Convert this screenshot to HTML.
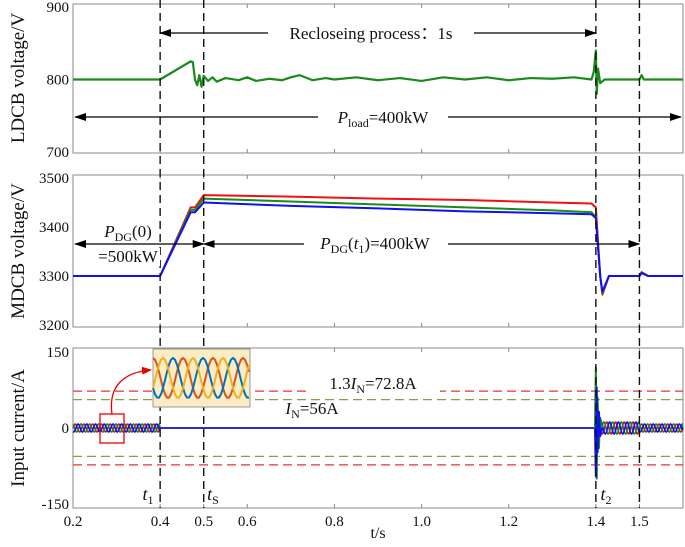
<!DOCTYPE html>
<html><head><meta charset="utf-8"><style>
body{margin:0;background:#fff}
svg text{font-family:"Liberation Serif",serif;fill:#111}
</style></head><body>
<svg id="c" width="685" height="542" xmlns="http://www.w3.org/2000/svg"></svg>
<script>
const ldcbT=[0.2,0.4,0.47,0.475,0.48,0.485,0.49,0.495,0.5,0.51,0.52,0.53,0.55,0.58,0.6,0.62,0.65,0.68,0.7,0.72,0.75,0.78,0.8,0.85,0.9,0.95,1.0,1.05,1.1,1.15,1.2,1.25,1.3,1.35,1.39,1.395,1.4,1.402,1.405,1.41,1.42,1.5,1.505,1.51,1.6];
const ldcbV=[800,800,825,824,800,792,806,790,805,798,803,797,802,799,803,798,801,799,803,806,799,802,800,803,799,802,798,803,800,803,799,802,801,803,800,810,840,780,815,795,800,800,806,800,800];
const mdT=[0.2,0.4,0.47,0.48,0.5,0.7,0.9,1.1,1.3,1.39,1.4,1.41,1.415,1.43,1.5,1.505,1.52,1.6];
const redV=[3300,3300,3440,3440,3465,3462,3458,3455,3450,3448,3440,3300,3262,3300,3300,3308,3300,3300];
const greenV=[3300,3300,3435,3435,3458,3452,3446,3440,3434,3430,3420,3300,3265,3300,3300,3307,3300,3300];
const blueV=[3300,3300,3430,3430,3450,3443,3438,3432,3428,3426,3418,3300,3268,3300,3300,3306,3300,3300];
const curSegT=[0.2,0.4,1.4,1.5,1.6];
const curAmp=[8,0,12,8];
const spikeT=[1.398,1.4,1.402,1.404,1.407,1.41,1.415];
const spikeV=[0,120,-100,60,-40,20,0];
const ratedI=[72.8,56];
const xTicks=[0.2,0.4,0.5,0.6,0.8,1.0,1.2,1.4,1.5];
const xTickLbl=["0.2","0.4","0.5","0.6","0.8","1.0","1.2","1.4","1.5"];
const events=[0.4,0.5,1.4,1.5];

const NS="http://www.w3.org/2000/svg",svg=document.getElementById('c');
function mk(tag,at,parent){const e=document.createElementNS(NS,tag);for(const k in at)e.setAttribute(k,at[k]);(parent||svg).appendChild(e);return e;}
const X0=73,X1=683;
const x=t=>X0+(t-0.2)*(610/1.4);
const yA=v=>7+(900-v)*(145/200);
const yB=v=>178+(3500-v)*(147/300);
const yC=v=>428-v*(76/150);
const defs=mk('defs',{});
const m=mk('marker',{id:'ah',markerWidth:12,markerHeight:8,refX:11,refY:4,orient:'auto-start-reverse',markerUnits:'userSpaceOnUse'},defs);
mk('path',{d:'M0,0 L12,4 L0,8z',fill:'#000'},m);
const m2=mk('marker',{id:'rh',markerWidth:10,markerHeight:8,refX:9,refY:4,orient:'auto',markerUnits:'userSpaceOnUse'},defs);
mk('path',{d:'M0,0 L10,4 L0,8z',fill:'#e00'},m2);
const frames=[[4,153,'ldcb-panel'],[175,327,'mdcb-panel'],[348,508,'current-panel']];
frames.forEach(f=>{const r=mk('rect',{x:X0,y:f[0],width:X1-X0,height:f[1]-f[0],fill:'none',stroke:'#888','stroke-width':1});

xTicks.forEach(t=>{mk('line',{x1:x(t),x2:x(t),y1:f[1],y2:f[1]-4,stroke:'#888'});mk('line',{x1:x(t),x2:x(t),y1:f[0],y2:f[0]+4,stroke:'#888'});});});
function ylab(y,s){const e=mk('text',{x:69,y:y+5,'text-anchor':'end','font-size':15});e.textContent=s;}
[[900,yA],[800,yA],[700,yA]].forEach(a=>ylab(a[1](a[0]),a[0]));
[3500,3400,3300,3200].forEach(v=>ylab(yB(v),v));
[[150,'150'],[0,'0'],[-150,'-150']].forEach(a=>ylab(yC(a[0]),a[1]));
xTicks.forEach((t,i)=>{const e=mk('text',{x:x(t),y:526,'text-anchor':'middle','font-size':15});e.textContent=xTickLbl[i];});
let xt=mk('text',{x:378,y:538,'text-anchor':'middle','font-size':16});xt.textContent='t/s';
[['LDCB voltage/V',78],['MDCB voltage/V',251],['Input current/A',428]].forEach(a=>{const e=mk('text',{x:0,y:0,'text-anchor':'middle','font-size':19,transform:`translate(24,${a[1]}) rotate(-90)`});e.textContent=a[0];});
[['#e83030',ratedI[0]],['#8aa040',ratedI[1]]].forEach(a=>{[1,-1].forEach(s=>{const l=mk('line',{x1:X0,x2:X1,y1:yC(s*a[1]),y2:yC(s*a[1]),stroke:a[0],'stroke-width':1.3,'stroke-dasharray':'9,5'});});});
function poly(ts,vs,fy,col,w,name){const p=mk('polyline',{points:ts.map((t,i)=>x(t)+','+fy(vs[i])).join(' '),fill:'none',stroke:col,'stroke-width':w,'stroke-linejoin':'round'});return p;}
poly(ldcbT,ldcbV,yA,'#1a8a1a',2.2,'ldcb-voltage-line');
poly(mdT,redV,yB,'#f01010',2,'mdcb-red-line');
poly(mdT,greenV,yB,'#1a8a1a',2,'mdcb-green-line');
poly(mdT,blueV,yB,'#1010f0',2,'mdcb-blue-line');
const cols=['#e01010','#1a8a1a','#1010f0'];
cols.forEach((c,k)=>{const ts=[],vs=[];
for(let s=0;s<curAmp.length;s++){for(let t=curSegT[s];t<curSegT[s+1];t+=0.002){ts.push(t);vs.push(curAmp[s]*Math.sin(2*Math.PI*50*t+k*2.094));}}
ts.push(1.6);vs.push(0);
poly(ts,vs,yC,c,1.6,'current-phase-'+k);});
poly(spikeT,spikeV,yC,'#1a8a1a',2,'current-spike-green');
poly(spikeT,spikeV.map(v=>-v*0.8),yC,'#1010f0',2,'current-spike-blue');
events.forEach(t=>{const l=mk('line',{x1:x(t),x2:x(t),y1:0,y2:508,stroke:'#111','stroke-width':1.4,'stroke-dasharray':'8,5'});});
function arrow(x1,y,x2,both,name){const l=mk('line',{x1,y1:y,x2,y2:y,stroke:'#000','stroke-width':1.2,'marker-end':'url(#ah)'});if(both)l.setAttribute('marker-start','url(#ah)');}
function txt(xx,y,html,size,name,anchor){const e=mk('text',{x:xx,y,'font-size':size||17,'text-anchor':anchor||'middle'});e.innerHTML=html;return e;}
arrow(x(0.4),33,x(1.4),true,'reclose-arrow');
mk('rect',{x:268,y:22,width:206,height:22,fill:'#fff'});
txt(371,39,'Recloseing process：1s',17,'reclose-label');
arrow(X0+2,117,X1-2,true,'pload-arrow');
mk('rect',{x:318,y:106,width:130,height:22,fill:'#fff'});
txt(383,123,'<tspan font-style="italic">P</tspan><tspan font-size="12" dy="4">load</tspan><tspan dy="-4">=400kW</tspan>',17,'pload-label');
arrow(X0+2,244,x(0.5),true,'pdg0-arrow');
arrow(x(0.5),244,x(1.5),true,'pdgt1-arrow');
mk('rect',{x:98,y:222,width:56,height:18,fill:'#fff'});
txt(128,237,'<tspan font-style="italic">P</tspan><tspan font-size="12" dy="4">DG</tspan><tspan dy="-4">(0)</tspan>',17,'pdg0-label');
mk('rect',{x:96,y:248,width:64,height:18,fill:'#fff'});
txt(128,262,'=500kW',17,'pdg0-value');
mk('rect',{x:304,y:232,width:144,height:22,fill:'#fff'});
txt(375,249,'<tspan font-style="italic">P</tspan><tspan font-size="12" dy="4">DG</tspan><tspan dy="-4">(</tspan><tspan font-style="italic">t</tspan><tspan font-size="12" dy="4">1</tspan><tspan dy="-4">)=400kW</tspan>',17,'pdgt1-label');
mk('rect',{x:306,y:374,width:134,height:18,fill:'#fff'});
txt(373,389,'1.3<tspan font-style="italic">I</tspan><tspan font-size="12" dy="4">N</tspan><tspan dy="-4">=72.8A</tspan>',17,'rated-13-label');
txt(312,414,'<tspan font-style="italic">I</tspan><tspan font-size="12" dy="4">N</tspan><tspan dy="-4">=56A</tspan>',17,'rated-label');
txt(148,500,'<tspan font-style="italic">t</tspan><tspan font-size="12" dy="4">1</tspan>',18,'t1-label');
txt(213,500,'<tspan font-style="italic">t</tspan><tspan font-size="12" dy="4">S</tspan>',18,'ts-label');
txt(606,500,'<tspan font-style="italic">t</tspan><tspan font-size="12" dy="4">2</tspan>',18,'t2-label');
const zb=mk('rect',{x:100,y:414,width:24,height:29,fill:'none',stroke:'#e00','stroke-width':1.3});
const ca=mk('path',{d:'M112,414 C108,385 125,372 151,370',fill:'none',stroke:'#e00','stroke-width':1.3,'marker-end':'url(#rh)'});
const ib=mk('rect',{x:153,y:349,width:97,height:58,fill:'#fcecc4',stroke:'#999'});
['#d9531e','#0072bd','#edb120'].forEach((c,k)=>{let pts=[];for(let i=0;i<=96;i+=2)pts.push((153+i)+','+(378-20*Math.cos(i/96*2*Math.PI*3.2+k*2.094)));const p=mk('polyline',{points:pts.join(' '),fill:'none',stroke:c,'stroke-width':2});});
</script>
</body></html>
